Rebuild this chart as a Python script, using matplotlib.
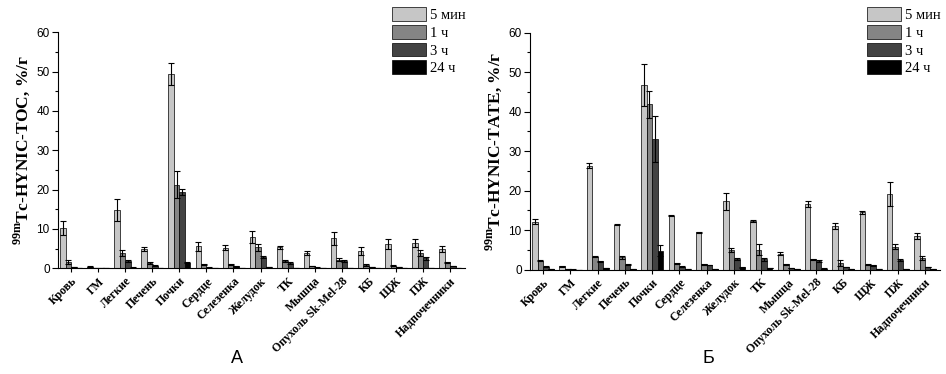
import matplotlib
matplotlib.use("Agg")
import matplotlib.pyplot as plt
import numpy as np

plt.rcParams['mathtext.fontset'] = 'custom'
plt.rcParams['mathtext.rm'] = 'Liberation Serif'
plt.rcParams['mathtext.bf'] = 'Liberation Serif:bold'

categories = ["Кровь", "ГМ", "Легкие", "Печень", "Почки", "Сердце", "Селезенка",
              "Желудок", "ТК", "Мышца", "Опухоль Sk-Mel-28", "КБ", "ЩЖ", "ПЖ",
              "Надпочечники"]
series_names = ["5 мин", "1 ч", "3 ч", "24 ч"]

# Panel A: 99mTc-HYNIC-TOC
toc_5m = [10.2, 0.4, 14.8, 4.9, 49.5, 5.6, 5.2, 8.0, 5.3, 4.0, 7.6, 4.4, 6.2, 6.5, 4.9]
toc_5m_err = [1.8, 0.1, 2.7, 0.4, 2.8, 1.1, 0.6, 1.6, 0.3, 0.5, 1.6, 1.1, 1.3, 1.0, 0.7]
toc_1h = [1.6, 0.1, 3.9, 1.4, 21.3, 1.0, 1.0, 5.3, 1.9, 0.6, 2.2, 0.85, 0.7, 3.9, 1.5]
toc_1h_err = [0.6, 0.05, 0.8, 0.2, 3.5, 0.2, 0.2, 0.9, 0.3, 0.1, 0.3, 0.2, 0.1, 0.8, 0.2]
toc_3h = [0.3, 0.05, 1.9, 0.7, 19.4, 0.2, 0.5, 2.9, 1.4, 0.2, 1.9, 0.3, 0.3, 2.5, 0.6]
toc_3h_err = [0.05, 0.02, 0.2, 0.1, 0.7, 0.05, 0.1, 0.3, 0.2, 0.05, 0.2, 0.05, 0.05, 0.3, 0.1]
toc_24h = [0.1, 0.02, 0.2, 0.1, 1.4, 0.05, 0.1, 0.3, 0.1, 0.05, 0.1, 0.05, 0.05, 0.1, 0.1]
toc_24h_err = [0.02, 0.01, 0.05, 0.02, 0.1, 0.01, 0.02, 0.05, 0.02, 0.01, 0.02, 0.01, 0.01, 0.02, 0.02]

# Panel B: 99mTc-HYNIC-TATE
tate_5m = [12.2, 0.9, 26.3, 11.4, 46.7, 13.7, 9.5, 17.3, 12.4, 4.0, 16.6, 11.0, 14.5, 19.1, 8.5]
tate_5m_err = [0.6, 0.1, 0.6, 0.2, 5.3, 0.1, 0.1, 2.2, 0.2, 0.4, 0.7, 0.8, 0.4, 3.0, 0.7]
tate_1h = [2.3, 0.1, 3.3, 3.1, 41.9, 1.6, 1.4, 5.0, 5.0, 1.35, 2.6, 1.7, 1.3, 5.8, 3.0]
tate_1h_err = [0.1, 0.02, 0.2, 0.3, 3.4, 0.1, 0.1, 0.4, 1.4, 0.1, 0.2, 0.7, 0.1, 0.6, 0.5]
tate_3h = [0.8, 0.05, 2.1, 1.3, 33.0, 0.8, 1.2, 2.7, 2.6, 0.4, 2.2, 0.7, 1.1, 2.5, 0.7]
tate_3h_err = [0.05, 0.02, 0.2, 0.1, 5.8, 0.05, 0.1, 0.3, 0.3, 0.05, 0.2, 0.1, 0.1, 0.3, 0.1]
tate_24h = [0.2, 0.02, 0.4, 0.2, 4.8, 0.2, 0.2, 0.6, 0.4, 0.1, 0.3, 0.1, 0.1, 0.2, 0.1]
tate_24h_err = [0.02, 0.01, 0.05, 0.02, 1.4, 0.02, 0.02, 0.05, 0.05, 0.01, 0.03, 0.01, 0.01, 0.02, 0.02]

colors = ["#c6c6c6", "#858585", "#434343", "#000000"]

fig = plt.figure(figsize=(9.46, 3.74), dpi=100)

def panel(rect, vals, errs, ylabel, letter, letter_x, legend_x):
    ax = fig.add_axes(rect)
    x = np.arange(len(categories))
    w = 0.2
    offs = [-0.3, -0.1, 0.1, 0.3]
    handles = []
    for i in range(4):
        b = ax.bar(x + offs[i], vals[i], w, color=colors[i], edgecolor='black',
                   linewidth=0.5, label=series_names[i], zorder=2)
        ax.errorbar(x + offs[i], vals[i], yerr=errs[i], fmt='none', ecolor='black',
                    elinewidth=0.8, capsize=2, capthick=0.8, zorder=3)
        handles.append(b)
    ax.set_xlim(-0.48, 14.55)
    ax.set_ylim(0, 60)
    ax.set_yticks([0, 10, 20, 30, 40, 50, 60])
    ax.set_yticks([5, 15, 25, 35, 45, 55], minor=True)
    ax.spines['top'].set_visible(False)
    ax.spines['right'].set_visible(False)
    ax.tick_params(axis='y', which='major', length=4, width=0.8, labelsize=8.5, pad=2)
    ax.tick_params(axis='y', which='minor', length=2, width=0.8)
    for t in ax.get_yticklabels():
        t.set_fontfamily('Liberation Sans')
    ax.set_xticks(x)
    ax.set_xticklabels(categories, rotation=45, ha='right', rotation_mode='anchor',
                       fontfamily='Liberation Serif', fontweight='bold', fontsize=8.5)
    ax.tick_params(axis='x', length=3, width=0.8, pad=2)
    ax.set_ylabel(ylabel, fontfamily='Liberation Serif', fontweight='bold', fontsize=12.5, labelpad=3)
    fig.text(letter_x, 0.03, letter, fontfamily='Liberation Sans', fontsize=13, ha='center')
    fig.legend(handles=handles, labels=series_names, loc='upper left',
               bbox_to_anchor=(legend_x, 0.98), frameon=False,
               prop={'family': 'Liberation Serif', 'size': 10.5},
               handlelength=2.3, handleheight=1.05, labelspacing=0.2,
               handletextpad=0.3, borderpad=0, borderaxespad=0)
    return ax

panel([58/946, 1 - 268.3/374, (465 - 58)/946, (268.3 - 32.3)/374],
      [toc_5m, toc_1h, toc_3h, toc_24h], [toc_5m_err, toc_1h_err, toc_3h_err, toc_24h_err],
      r'$^{\mathbf{99m}}$Tc-HYNIC-TOC, %/г', 'А', 237/946, 392/946)
panel([530/946, 1 - 269.7/374, (940 - 530)/946, (269.7 - 32.7)/374],
      [tate_5m, tate_1h, tate_3h, tate_24h], [tate_5m_err, tate_1h_err, tate_3h_err, tate_24h_err],
      r'$^{\mathbf{99m}}$Tc-HYNIC-TATE, %/г', 'Б', 708/946, 867/946)

fig.savefig('out.png', dpi=100)
